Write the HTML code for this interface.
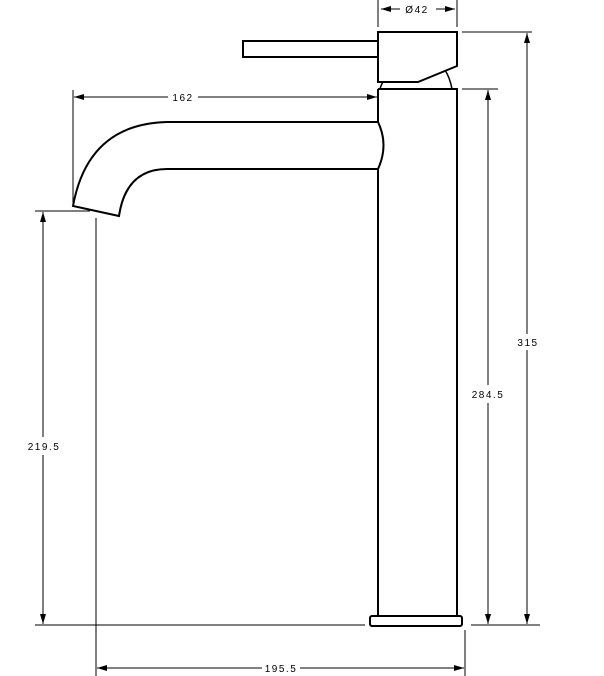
<!DOCTYPE html>
<html><head><style>html,body{margin:0;padding:0;background:#fff}svg{display:block}text{font-family:"Liberation Sans",sans-serif;font-size:10px;letter-spacing:1.5px;fill:#000}</style></head>
<body>
<svg width="604" height="676" viewBox="0 0 604 676" xmlns="http://www.w3.org/2000/svg">
<defs><marker id="a" markerWidth="10" markerHeight="6" refX="10" refY="3" orient="auto-start-reverse" markerUnits="userSpaceOnUse"><path d="M0,0 L10,3 L0,6 Z" fill="#000"/></marker></defs>
<g fill="none" stroke="#000" stroke-width="2">
<rect x="243" y="41" width="135" height="16"/>
<path d="M378,32 H457 V66 L418,82 H378 Z"/>
<path d="M383,82 Q381,85 380,89 M445,70 Q450,78 452,89" stroke-width="1.5"/>
<path d="M378,89 H457 V616 M378,89 V122 Q389,145 378,169 V616"/>
<path d="M378,122 H167 Q88,124 73,206 L119,216 Q126,169 167,169 H378"/>
<rect x="370" y="616" width="92" height="10" rx="2"/>
</g>
<g fill="none" stroke="#000" stroke-width="1">
<path d="M35,625 H365 M471,625 H540"/>
<path d="M378,0 V27 M457,0 V27 M462,32 H532 M462,89 H498 M35,211 H90 M73,90 V206 M96,218 V676 M465,630 V676"/>
<line x1="381" y1="9" x2="400" y2="9" marker-start="url(#a)"/>
<line x1="436" y1="9" x2="455" y2="9" marker-end="url(#a)"/>
<line x1="74" y1="97" x2="168" y2="97" marker-start="url(#a)"/>
<line x1="198" y1="97" x2="377" y2="97" marker-end="url(#a)"/>
<line x1="97" y1="668" x2="262" y2="668" marker-start="url(#a)"/>
<line x1="300" y1="668" x2="464" y2="668" marker-end="url(#a)"/>
<line x1="527" y1="33" x2="527" y2="334" marker-start="url(#a)"/>
<line x1="527" y1="350" x2="527" y2="624" marker-end="url(#a)"/>
<line x1="488" y1="90" x2="488" y2="385" marker-start="url(#a)"/>
<line x1="488" y1="403" x2="488" y2="624" marker-end="url(#a)"/>
<line x1="43" y1="212" x2="43" y2="437" marker-start="url(#a)"/>
<line x1="43" y1="455" x2="43" y2="624" marker-end="url(#a)"/>
</g>
<text x="417" y="13" text-anchor="middle">Ø42</text>
<text x="183" y="101" text-anchor="middle">162</text>
<text x="281" y="672" text-anchor="middle">195.5</text>
<text x="528" y="346" text-anchor="middle">315</text>
<text x="488" y="398" text-anchor="middle">284.5</text>
<text x="44" y="450" text-anchor="middle">219.5</text>
</svg>
</body></html>
